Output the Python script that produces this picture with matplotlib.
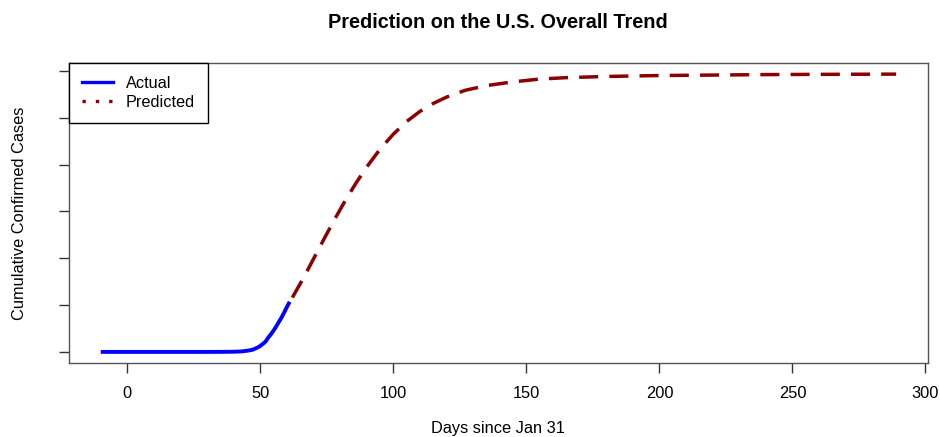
import numpy as np
import matplotlib.pyplot as plt
from matplotlib.lines import Line2D

plt.rcParams['font.family'] = ['Liberation Sans', 'DejaVu Sans']

# observed cumulative cases, one value per day from Jan 21 (day -10)
actual_days = list(range(-10, 62))
actual_cases = [1, 1, 1, 2, 2, 5, 5, 5, 5, 5,
                6, 8, 8, 11, 11, 11, 12, 12, 12, 12,
                12, 13, 13, 14, 14, 14, 14, 14, 14, 14,
                14, 14, 14, 15, 15, 15, 15, 15, 16, 16,
                30, 40, 55, 74, 107, 184, 237, 403, 519, 594,
                782, 1147, 1586, 2219, 3500, 5000, 7000, 9000, 14000, 19000,
                26000, 35000, 45000, 62000, 76000, 92000, 110000, 129000, 148000, 170000,
                193000, 214000]

# model projection after the last observed day
pred_days = [62, 66, 70, 74, 78, 82, 86, 90, 95, 100, 105, 110, 115, 120,
             127, 135, 145, 155, 165, 180, 200, 220, 240, 260, 289]
pred_cases = [232000, 312000, 398000, 484000, 568000, 648000, 722000, 790000,
              866000, 930000, 984000, 1027000, 1061000, 1088000, 1117000,
              1137000, 1153000, 1165000, 1171000, 1176000, 1180000, 1182000,
              1184000, 1185000, 1186000]

x_ticks = [0, 50, 100, 150, 200, 250, 300]
y_ticks = [0, 200000, 400000, 600000, 800000, 1000000, 1200000]

fig = plt.figure(figsize=(9.4, 4.37), dpi=100)
ax = fig.add_axes([0.0734, 0.1693, 0.9138, 0.6865])

ax.plot(actual_days, actual_cases, color='blue', lw=2.8, solid_capstyle='butt')
ax.plot(pred_days, pred_cases, color='darkred', lw=2.5,
        dashes=(5.5, 3.2), dash_capstyle='butt')

ax.margins(x=0.04, y=0.04)
ax.set_xticks(x_ticks)
ax.set_yticks(y_ticks)
ax.set_yticklabels([])
ax.tick_params(length=7.2, width=1, color='#333333', labelsize=11.8, pad=9)
for s in ax.spines.values():
    s.set_color('#555555')
    s.set_linewidth(1)

fig.text(0.53, 1 - 23 / 437, 'Prediction on the U.S. Overall Trend',
         ha='center', va='center', fontsize=14.3, fontweight='bold')
fig.text(0.53, 1 - 428 / 437, 'Days since Jan 31', ha='center', va='center',
         fontsize=11.8)
fig.text(20 / 940, 1 - 213 / 437, 'Cumulative Confirmed Cases', ha='center',
         va='center', rotation=90, fontsize=11.8)

handles = [Line2D([], [], color='blue', lw=2.4),
           Line2D([], [], color='darkred', lw=2.4, dashes=(1, 3))]
leg = ax.legend(handles, ['Actual', 'Predicted'], loc='upper left',
                borderaxespad=0, fancybox=False, framealpha=1,
                fontsize=11.7, handlelength=1.9, handletextpad=0.8,
                labelspacing=0.22, borderpad=0.8)
leg.get_frame().set_edgecolor('black')
leg.get_frame().set_linewidth(1)

fig.savefig('out.png', dpi=100)
